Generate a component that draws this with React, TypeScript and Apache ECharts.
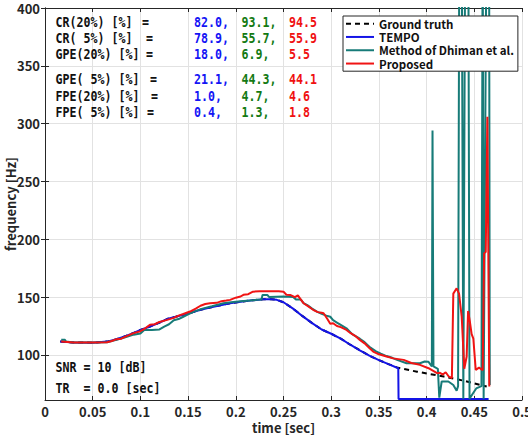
import { useEffect, useRef } from "react";
import * as echarts from "echarts";

// Axis ticks
const TIME_TICK_STEP = 0.05;
const FREQ_TICKS = [100, 150, 200, 250, 300, 350, 400];
const FREQ_MIN = 61;
const FREQ_MAX = 400;

// F0 tracks: [time (sec), frequency (Hz)]
const groundTruth: [number, number][] = [
  [0.016, 111.5], [0.03, 110.8], [0.05, 110.6], [0.065, 111.5], [0.075, 113.5],
  [0.085, 116.5], [0.093, 119], [0.1, 121.5], [0.11, 124.5], [0.12, 128],
  [0.128, 131], [0.137, 133], [0.145, 134.8], [0.152, 136.3], [0.162, 138.8],
  [0.173, 141], [0.184, 143], [0.194, 144.7], [0.205, 146], [0.215, 147],
  [0.229, 148.2], [0.237, 148.2], [0.243, 147.6], [0.25, 145.5], [0.26, 140],
  [0.27, 133.5], [0.28, 127.5], [0.29, 122], [0.3, 118.3], [0.31, 114],
  [0.32, 108.8], [0.33, 104], [0.34, 99.3], [0.35, 95.5], [0.36, 92],
  [0.37, 88.8], [0.39, 85.5], [0.418, 81.3], [0.44, 77.5], [0.463, 72.6],
];

const tempo: [number, number][] = [
  [0.016, 111.5], [0.03, 110.8], [0.05, 110.6], [0.065, 111.5], [0.075, 113.5],
  [0.085, 116.5], [0.093, 119], [0.1, 121.5], [0.11, 124.5], [0.12, 128],
  [0.128, 131], [0.137, 133], [0.145, 134.8], [0.152, 136.3], [0.162, 138.8],
  [0.173, 141], [0.184, 143], [0.194, 144.7], [0.205, 146], [0.215, 147],
  [0.229, 148.2], [0.237, 148.2], [0.243, 147.6], [0.25, 145.5], [0.26, 140],
  [0.27, 133.5], [0.28, 127.5], [0.29, 122], [0.3, 118.3], [0.31, 114],
  [0.32, 108.8], [0.33, 104], [0.34, 99.3], [0.35, 95.5], [0.36, 92],
  [0.3703, 88.5], [0.3706, 61.8], [0.465, 61.8],
];

const dhiman: [number, number][] = [
  [0.017, 113], [0.021, 113], [0.022, 111.5], [0.03, 110.8], [0.05, 110.8],
  [0.065, 111], [0.075, 113], [0.085, 115.5], [0.093, 117.5], [0.1, 118.5],
  [0.104, 121.6], [0.112, 121.6], [0.12, 122], [0.125, 124.5], [0.13, 126.5],
  [0.135, 130], [0.14, 131], [0.145, 133], [0.15, 135], [0.155, 137],
  [0.165, 140], [0.175, 142], [0.187, 144.7], [0.195, 145.5], [0.205, 146.5],
  [0.215, 147], [0.222, 147.6], [0.227, 148], [0.228, 151.9], [0.233, 151.9],
  [0.235, 150], [0.25, 150.5], [0.26, 150], [0.263, 148], [0.268, 148],
  [0.271, 144.7], [0.275, 143], [0.28, 140], [0.285, 137.5], [0.29, 135.5],
  [0.295, 134], [0.299, 133], [0.302, 130], [0.306, 128], [0.31, 126],
  [0.316, 123], [0.322, 118], [0.33, 114], [0.335, 111], [0.34, 107],
  [0.347, 103], [0.352, 101], [0.358, 99], [0.364, 97.5], [0.369, 95.7],
  [0.379, 92.8], [0.393, 92.8], [0.398, 94.3], [0.402, 94], [0.4055, 90],
  [0.4062, 294], [0.4072, 90], [0.4118, 88], [0.4133, 63], [0.4158, 77],
  [0.4228, 77], [0.428, 74], [0.4315, 69], [0.433, 73], [0.4343, 470],
  [0.4368, 470], [0.4385, 62], [0.4405, 470], [0.4437, 470], [0.445, 62],
  [0.448, 66], [0.452, 71], [0.4575, 73], [0.4588, 470], [0.4598, 62],
  [0.4628, 470], [0.4655, 470], [0.4662, 74],
];

const proposed: [number, number][] = [
  [0.017, 111.5], [0.03, 110.8], [0.05, 110.8], [0.065, 111], [0.07, 112],
  [0.075, 113.6], [0.08, 114], [0.085, 116], [0.093, 118.8], [0.1, 120.5],
  [0.105, 123], [0.11, 126], [0.115, 126.5], [0.12, 128.5], [0.128, 130.3],
  [0.135, 132], [0.14, 134], [0.145, 135.4], [0.152, 137.5], [0.158, 140],
  [0.163, 142.5], [0.168, 144], [0.173, 144.7], [0.18, 145], [0.185, 146.5],
  [0.19, 147], [0.194, 147.6], [0.2, 149.5], [0.205, 150.5], [0.208, 152],
  [0.213, 152.5], [0.218, 154.7], [0.225, 155], [0.235, 155], [0.245, 155],
  [0.25, 154.7], [0.253, 152], [0.257, 151.9], [0.262, 150], [0.265, 151.5],
  [0.268, 148], [0.271, 144.7], [0.276, 142], [0.281, 139], [0.286, 137],
  [0.29, 136.5], [0.292, 136], [0.296, 131], [0.299, 127], [0.302, 127.4],
  [0.306, 125], [0.31, 124], [0.316, 121.6], [0.32, 119], [0.325, 116.5],
  [0.33, 113], [0.335, 110], [0.34, 106], [0.344, 102.9], [0.35, 100.5],
  [0.358, 98.6], [0.365, 97], [0.376, 95.7], [0.384, 93], [0.393, 91.4],
  [0.402, 88.5], [0.411, 84.2], [0.414, 84.5], [0.417, 83], [0.42, 85],
  [0.423, 81.5], [0.4265, 80], [0.428, 153], [0.4315, 157.6], [0.434, 153],
  [0.4368, 133], [0.4395, 88], [0.442, 98.6], [0.4435, 138], [0.4455, 128],
  [0.4472, 118], [0.449, 114], [0.4515, 87], [0.455, 89], [0.4588, 86.7],
  [0.4603, 187.9], [0.462, 189], [0.4637, 306], [0.4657, 72.6],
];

// Score table
const metricLabels = [
  "CR(20%) [%]",
  "CR( 5%) [%]",
  "GPE(20%) [%]",
  "GPE( 5%) [%]",
  "FPE(20%) [%]",
  "FPE( 5%) [%]",
];
const tempoScores = ["82.0,", "78.9,", "18.0,", "21.1,", "1.0,", "0.4,"];
const dhimanScores = ["93.1,", "55.7,", "6.9,", "44.3,", "4.7,", "1.3,"];
const proposedScores = ["94.5", "55.9", "5.5", "44.1", "4.6", "1.8"];
const conditionLines = ["SNR = 10 [dB]", "TR  = 0.0 [sec]"];

const FONT = '"Noto Sans CJK JP", "Noto Sans", sans-serif';
const MONO = '"DejaVu Sans Mono", monospace';
const AXIS_COLOR = "#262626";
const GRID_COLOR = "#e2e2e2";

export default function App() {
  const ref = useRef<HTMLDivElement>(null);

  useEffect(() => {
    if (!ref.current) return;
    const chart = echarts.init(ref.current, undefined, { renderer: "svg" });

    const rowY = [21.7, 37.8, 54, 79, 95.7, 112.3];
    const eqX = [142, 146, 146, 150, 151, 147];
    const scoreX = [194, 241.5, 289];
    const scoreColors = ["#1414f5", "#137a13", "#f01010"];
    // narrow, tall monospace glyphs
    const font = `bold 14px ${MONO}`;
    const squeeze = 0.83;

    const annot = (text: string, x: number, y: number, fill: string) => ({
      type: "text", x, y, scaleX: squeeze, silent: true, z: 1,
      style: { text, font, fill, verticalAlign: "middle" },
    });

    const graphic: any[] = [];
    metricLabels.forEach((label, i) => {
      graphic.push(annot(label, 55.5, rowY[i], "#111"));
      graphic.push(annot("=", eqX[i], rowY[i], "#111"));
      [tempoScores, dhimanScores, proposedScores].forEach((col, c) => {
        graphic.push(annot(col[i], scoreX[c], rowY[i], scoreColors[c]));
      });
    });
    conditionLines.forEach((line, i) => {
      graphic.push(annot(line, 55.5, 366.7 + i * 21.6, "#111"));
    });

    const tickLabel = {
      fontFamily: FONT, fontWeight: "bold" as const, fontSize: 13, color: AXIS_COLOR,
    };

    const lineSeries = (name: string, data: [number, number][], color: string, lineExtra: any = {}) => ({
      name, type: "line", data, symbol: "none", showSymbol: false,
      lineStyle: { color, width: 2, ...lineExtra },
      itemStyle: { color },
      emphasis: { disabled: true },
      clip: true,
      z: 2,
    });

    chart.setOption({
      animation: false,
      backgroundColor: "#fff",
      grid: { left: 45, right: 6, top: 8, bottom: 36, outerBoundsMode: "none", containLabel: false },
      xAxis: [
        {
          type: "value", min: 0, max: 0.5, interval: TIME_TICK_STEP, position: "bottom",
          name: "time [sec]", nameLocation: "middle", nameGap: 21, nameMoveOverlap: false,
          nameTextStyle: { ...tickLabel },
          axisLine: { show: true, lineStyle: { color: AXIS_COLOR, width: 1 } },
          axisTick: { show: true, inside: true, length: 4, lineStyle: { color: AXIS_COLOR } },
          axisLabel: { ...tickLabel, margin: 5, formatter: (v: number) => String(+v.toFixed(2)) },
          splitLine: { show: true, lineStyle: { color: GRID_COLOR, width: 1 } },
        },
        {
          type: "value", min: 0, max: 0.5, interval: TIME_TICK_STEP, position: "top",
          axisLine: { show: true, lineStyle: { color: AXIS_COLOR, width: 1 } },
          axisTick: { show: true, inside: true, length: 4, lineStyle: { color: AXIS_COLOR } },
          axisLabel: { show: false },
          splitLine: { show: false },
        },
      ],
      yAxis: [
        {
          type: "value", min: FREQ_MIN, max: FREQ_MAX, position: "left",
          name: "frequency [Hz]", nameLocation: "middle", nameGap: 28, nameMoveOverlap: false,
          nameTextStyle: { ...tickLabel },
          axisLine: { show: true, lineStyle: { color: AXIS_COLOR, width: 1 } },
          axisTick: { show: true, inside: true, length: 4, customValues: FREQ_TICKS, lineStyle: { color: AXIS_COLOR } },
          axisLabel: { ...tickLabel, margin: 5, customValues: FREQ_TICKS },
          splitLine: { show: true, lineStyle: { color: GRID_COLOR, width: 1 } },
        },
        {
          type: "value", min: FREQ_MIN, max: FREQ_MAX, position: "right",
          axisLine: { show: true, lineStyle: { color: AXIS_COLOR, width: 1 } },
          axisTick: { show: true, inside: true, length: 4, customValues: FREQ_TICKS, lineStyle: { color: AXIS_COLOR } },
          axisLabel: { show: false, customValues: FREQ_TICKS },
          splitLine: { show: false },
        },
      ],
      legend: {
        orient: "vertical", left: 343, top: 16, z: 10,
        itemWidth: 28, itemHeight: 10, itemGap: 0,
        padding: [1, 4, 1, 2],
        backgroundColor: "#fff", borderColor: AXIS_COLOR, borderWidth: 1, borderRadius: 0,
        itemStyle: { opacity: 0 },
        textStyle: { fontFamily: FONT, fontWeight: "bold", fontSize: 11.5, color: "#111", lineHeight: 13.3 },
        data: ["Ground truth", "TEMPO", "Method of Dhiman et al.", "Proposed"],
        selectedMode: false,
      },
      graphic,
      series: [
        lineSeries("Ground truth", groundTruth, "#000", { type: [5, 4] }),
        lineSeries("TEMPO", tempo, "#1414e6"),
        lineSeries("Method of Dhiman et al.", dhiman, "#177b78"),
        lineSeries("Proposed", proposed, "#f01414"),
      ],
    });

    return () => chart.dispose();
  }, []);

  return (
    <div
      ref={ref}
      style={{ position: "fixed", left: 0, top: 0, width: 528, height: 436 }}
    />
  );
}
